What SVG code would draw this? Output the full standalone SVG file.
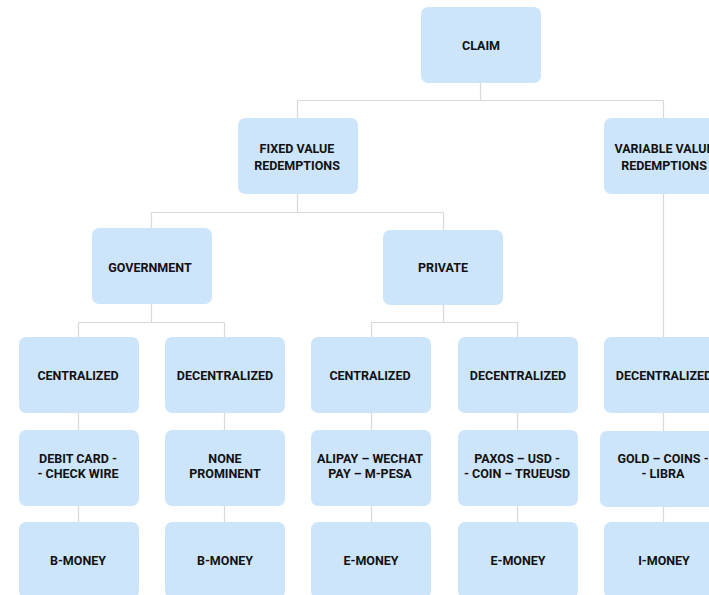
<svg xmlns="http://www.w3.org/2000/svg" width="709" height="595" viewBox="0 0 709 595">
<style>
.n{fill:#cde5fb;}
.t{font-family:Roboto,"Liberation Sans",sans-serif;font-weight:bold;font-size:12.5px;fill:#111;text-anchor:middle;dominant-baseline:central;}
.c{stroke:#d8d8dc;stroke-width:1.2;fill:none;}
</style>
<rect width="709" height="595" fill="#fff"/>
<g id="connectors">
<path class="c" d="M480.5 83V100.5M297.5 100.5H663.5M297.5 100.5V118M663.5 100.5V118"/>
<path class="c" d="M297.5 194V212.5M151.5 212.5H443.5M151.5 212.5V228M443.5 212.5V230"/>
<path class="c" d="M663.5 194V337"/>
<path class="c" d="M151.5 304V322.5M78.5 322.5H224.5M78.5 322.5V337M224.5 322.5V337"/>
<path class="c" d="M443.5 305V322.5M371.5 322.5H517.5M371.5 322.5V337M517.5 322.5V337"/>
<path class="c" d="M78.5 413V430M224.5 413V430M371.5 413V430M517.5 413V430M663.5 413V431"/>
<path class="c" d="M78.5 506V522M224.5 506V522M371.5 506V522M517.5 506V522M663.5 507V522"/>
</g>
<g id="claim"><rect class="n" x="421" y="7" width="120" height="76" rx="7"/><text class="t" x="481" y="45">CLAIM</text></g>
<g id="fixed"><rect class="n" x="238" y="118" width="120" height="76" rx="7"/><text class="t" x="297" y="148">FIXED VALUE</text><text class="t" x="297" y="165">REDEMPTIONS</text></g>
<g id="variable"><rect class="n" x="604" y="118" width="120" height="76" rx="7"/><text class="t" x="664" y="148">VARIABLE VALUE</text><text class="t" x="664" y="165">REDEMPTIONS</text></g>
<g id="government"><rect class="n" x="92" y="228" width="120" height="76" rx="7"/><text class="t" x="150" y="267">GOVERNMENT</text></g>
<g id="private"><rect class="n" x="383" y="230" width="120" height="75" rx="7"/><text class="t" x="443" y="267">PRIVATE</text></g>
<g id="gov-centralized"><rect class="n" x="19" y="337" width="120" height="76" rx="7"/><text class="t" x="78" y="375">CENTRALIZED</text></g>
<g id="gov-decentralized"><rect class="n" x="165" y="337" width="120" height="76" rx="7"/><text class="t" x="225" y="375">DECENTRALIZED</text></g>
<g id="priv-centralized"><rect class="n" x="311" y="337" width="120" height="76" rx="7"/><text class="t" x="370" y="375">CENTRALIZED</text></g>
<g id="priv-decentralized"><rect class="n" x="458" y="337" width="120" height="76" rx="7"/><text class="t" x="518" y="375">DECENTRALIZED</text></g>
<g id="var-decentralized"><rect class="n" x="604" y="337" width="120" height="76" rx="7"/><text class="t" x="664" y="375">DECENTRALIZED</text></g>
<g id="debit"><rect class="n" x="19" y="430" width="120" height="76" rx="7"/><text class="t" x="78" y="458">DEBIT CARD -</text><text class="t" x="78" y="473">- CHECK WIRE</text></g>
<g id="none"><rect class="n" x="165" y="430" width="120" height="76" rx="7"/><text class="t" x="225" y="458">NONE</text><text class="t" x="225" y="473">PROMINENT</text></g>
<g id="alipay"><rect class="n" x="311" y="430" width="120" height="76" rx="7"/><text class="t" x="370" y="458">ALIPAY – WECHAT</text><text class="t" x="370" y="473">PAY – M-PESA</text></g>
<g id="paxos"><rect class="n" x="458" y="430" width="120" height="76" rx="7"/><text class="t" x="517" y="458">PAXOS – USD -</text><text class="t" x="517" y="473">- COIN – TRUEUSD</text></g>
<g id="gold"><rect class="n" x="600" y="431" width="126" height="76" rx="7"/><text class="t" x="663" y="458">GOLD – COINS -</text><text class="t" x="663" y="473">- LIBRA</text></g>
<g id="bmoney1"><rect class="n" x="19" y="522" width="120" height="76" rx="7"/><text class="t" x="78" y="560">B-MONEY</text></g>
<g id="bmoney2"><rect class="n" x="165" y="522" width="120" height="76" rx="7"/><text class="t" x="225" y="560">B-MONEY</text></g>
<g id="emoney1"><rect class="n" x="311" y="522" width="120" height="76" rx="7"/><text class="t" x="371" y="560">E-MONEY</text></g>
<g id="emoney2"><rect class="n" x="458" y="522" width="120" height="76" rx="7"/><text class="t" x="518" y="560">E-MONEY</text></g>
<g id="imoney"><rect class="n" x="604" y="522" width="120" height="76" rx="7"/><text class="t" x="664" y="560">I-MONEY</text></g>
</svg>
